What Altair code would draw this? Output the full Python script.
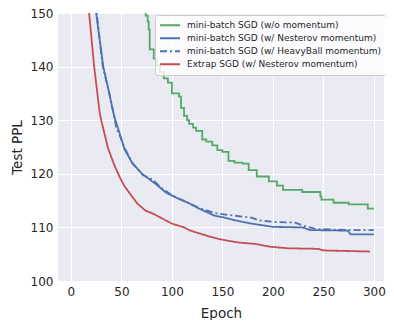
import altair as alt
import pandas as pd

series_names = [
    "mini-batch SGD (w/o momentum)",
    "mini-batch SGD (w/ Nesterov momentum)",
    "mini-batch SGD (w/ HeavyBall momentum)",
    "Extrap SGD (w/ Nesterov momentum)",
]
series_colors = ["#55A868", "#4C72B0", "#4C72B0", "#C44E52"]
series_dash = [[1, 0], [1, 0], [7, 3, 2, 3], [1, 0]]

green_epoch = [72, 74, 76, 77, 78, 82, 85, 88, 92, 96, 100, 107, 109, 112, 115, 117, 121, 124, 130,
               134, 140, 145, 150, 156, 162, 170, 176, 184, 196, 204, 210, 229, 247, 248, 260, 275, 294, 300]
green_ppl = [151, 149.5, 148.4, 146.9, 143.2, 141.5, 140.3, 139.0, 137.8, 137.0, 135.0, 134.4, 132.3, 130.8,
             130.0, 129.3, 128.6, 128.0, 126.4, 126.0, 125.3, 124.4, 124.1, 122.4, 122.1, 121.9, 120.7,
             119.5, 118.6, 117.8, 117.0, 116.6, 115.8, 115.2, 114.6, 114.3, 113.5, 113.5]

nesterov_epoch = [24, 25, 32, 38, 42, 44, 48, 53, 61, 71, 84, 94, 107, 117, 127, 142, 150, 163,
                  179, 200, 229, 237, 274, 277, 300]
nesterov_ppl = [152, 150, 140, 135, 131.4, 130, 127.7, 124.6, 121.9, 119.9, 118.1, 116.5, 115.3, 114.5,
                113.5, 112.2, 111.9, 111.3, 110.7, 110.1, 110.0, 109.5, 109.4, 108.7, 108.7]

heavy_epoch = [24, 25.5, 31.5, 38, 42.5, 45, 48, 53, 61, 71, 81, 90, 100, 114, 127, 142, 153, 179,
               186, 202, 222, 232, 243, 276, 300]
heavy_ppl = [152, 150, 140, 135, 131, 128.5, 127.3, 124.9, 122.0, 119.8, 118.9, 117.3, 116.0, 114.8,
             113.6, 112.7, 112.4, 111.8, 111.3, 111.0, 110.9, 110.2, 109.7, 109.5, 109.5]

extrap_epoch = [17, 18, 23, 28.5, 30, 36.7, 43, 48, 53, 60, 66, 74, 81, 91, 100, 112, 117, 125, 137,
                150, 165, 183, 197, 215, 245, 250, 296]
extrap_ppl = [152, 150, 140, 131.4, 130, 124.8, 121.6, 119.5, 117.7, 115.9, 114.4, 113.1, 112.6, 111.6,
              110.7, 110.0, 109.5, 109.0, 108.3, 107.7, 107.2, 106.9, 106.4, 106.1, 106.0, 105.7, 105.5]

x_ticks = [0, 50, 100, 150, 200, 250, 300]
y_ticks = [100, 110, 120, 130, 140, 150]


def frame(name, xs, ys):
    return pd.DataFrame({"epoch": xs, "ppl": ys, "series": name})


df_green = frame(series_names[0], green_epoch, green_ppl)
df_rest = pd.concat([
    frame(series_names[1], nesterov_epoch, nesterov_ppl),
    frame(series_names[2], heavy_epoch, heavy_ppl),
    frame(series_names[3], extrap_epoch, extrap_ppl),
])

x_enc = alt.X("epoch:Q", scale=alt.Scale(domain=[-12.8, 310], nice=False, zero=False),
              axis=alt.Axis(values=x_ticks, title="Epoch", labelPadding=5, titlePadding=9))
y_enc = alt.Y("ppl:Q", scale=alt.Scale(domain=[100, 150], nice=False, zero=False),
              axis=alt.Axis(values=y_ticks, title="Test PPL", labelPadding=5, titlePadding=6))
legend = alt.Legend(
    title=None, orient="none", legendX=97, legendY=2,
    symbolType="stroke", symbolSize=400, symbolStrokeWidth=2,
    labelFontSize=9, labelFont="DejaVu Sans", labelColor="#262626", labelOffset=6, labelLimit=400,
    fillColor="rgba(255,255,255,0.8)", strokeColor="#CCCCCC", cornerRadius=3,
    padding=4, rowPadding=0, clipHeight=12.5,
)
color_enc = alt.Color("series:N", scale=alt.Scale(domain=series_names, range=series_colors), legend=legend)
dash_enc = alt.StrokeDash("series:N", scale=alt.Scale(domain=series_names, range=series_dash), legend=legend)

green_layer = alt.Chart(df_green).mark_line(clip=True, strokeWidth=1.8, interpolate="step-after").encode(
    x=x_enc, y=y_enc, color=color_enc, strokeDash=dash_enc)
rest_layer = alt.Chart(df_rest).mark_line(clip=True, strokeWidth=1.8).encode(
    x=x_enc, y=y_enc, color=color_enc, strokeDash=dash_enc)

chart = alt.layer(green_layer, rest_layer).properties(
    width=326, height=268,
    autosize=alt.AutoSizeParams(type="none"),
    padding={"left": 50, "top": 5, "right": 2, "bottom": 39},
).configure_view(
    fill="#EAEAF2", stroke=None,
).configure_axis(
    domain=False, ticks=False, tickSize=0, grid=True, gridColor="white", gridWidth=1,
    labelFont="DejaVu Sans", labelFontSize=12, labelColor="#262626",
    titleFont="DejaVu Sans", titleFontSize=13.5, titleFontWeight="normal", titleColor="#262626",
)

chart.save("out.html", embed_options={"renderer": "svg", "actions": False})
